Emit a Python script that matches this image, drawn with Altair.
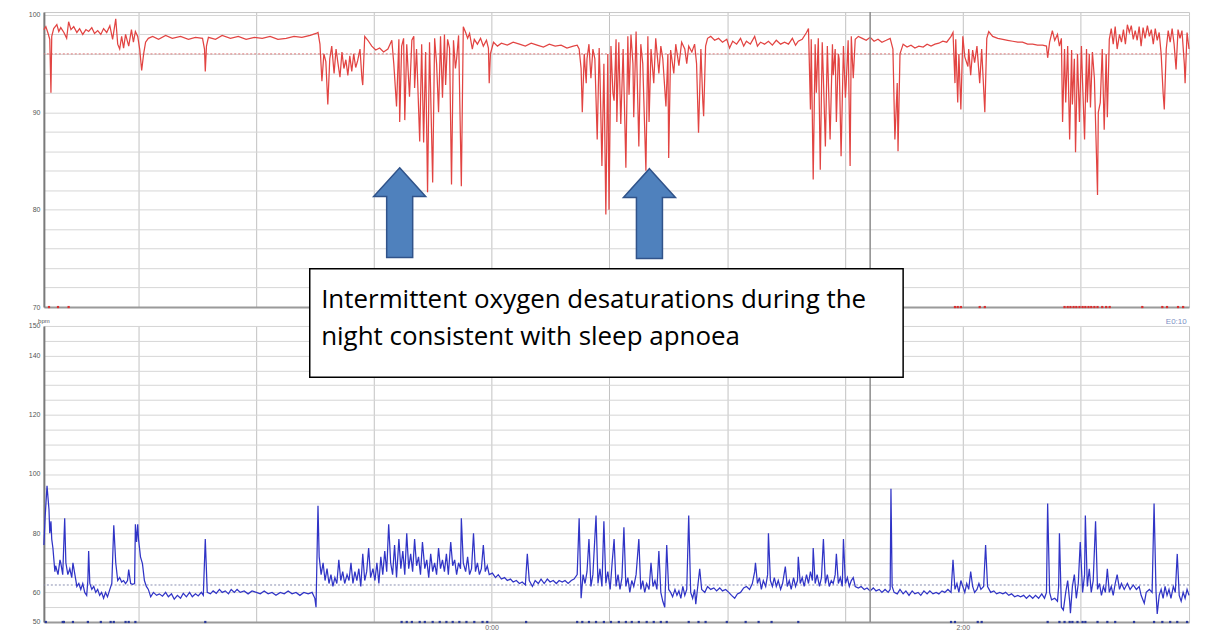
import altair as alt
import pandas as pd

# ---------------- data ----------------
# time in minutes from start of the recording
spo2_time = [0.0, 0.5, 1.0, 1.5, 1.8, 2.0, 2.5, 3.3, 3.8, 4.3, 5.1, 5.8, 6.3, 6.9, 7.6, 8.4, 9.1, 9.9, 10.7, 11.4,
             12.2, 12.9, 13.7, 14.5, 15.2, 16.0, 16.8, 17.5, 18.3, 18.8, 19.3, 19.8, 20.3, 20.8, 21.6, 22.3, 22.8, 23.3, 23.9, 24.4,
             24.9, 25.4, 25.9, 26.6, 27.7, 29.2, 31.0, 32.7, 34.8, 36.8, 38.6, 40.4, 40.9, 41.1, 41.4, 41.9, 43.7, 45.4, 47.5, 49.5,
             51.5, 53.6, 55.6, 57.6, 59.6, 61.7, 63.7, 65.7, 67.8, 69.3, 69.8, 70.3, 70.8, 71.3, 71.8, 72.3, 72.8, 73.3, 73.9, 74.4,
             74.9, 75.4, 75.9, 76.4, 76.9, 77.4, 77.9, 78.4, 78.9, 79.4, 79.9, 80.5, 81.0, 81.2, 81.7, 82.5, 83.5, 84.5, 85.5, 86.5,
             87.6, 88.6, 89.1, 89.8, 90.4, 90.6, 91.1, 91.6, 91.9, 92.4, 93.1, 93.7, 94.2, 94.4, 94.9, 95.7, 96.2, 96.7, 97.2, 97.7,
             98.2, 99.0, 99.5, 100.0, 100.5, 101.0, 101.5, 102.0, 102.3, 102.8, 103.3, 103.8, 104.3, 104.8, 105.1, 105.6, 106.3, 106.8, 107.4, 107.9,
             108.4, 109.1, 109.6, 110.4, 111.2, 111.9, 112.7, 113.2, 113.4, 113.7, 114.5, 115.5, 116.5, 118.0, 119.5, 121.1, 122.6, 124.1, 125.6, 127.2,
             128.7, 130.2, 131.7, 133.2, 134.8, 135.8, 136.3, 136.8, 137.1, 137.6, 138.1, 138.3, 138.8, 139.3, 139.8, 140.3, 140.9, 141.4, 141.6, 142.1,
             142.6, 143.1, 143.6, 143.9, 144.4, 144.9, 145.2, 145.7, 145.9, 146.4, 146.9, 147.5, 148.2, 148.7, 149.0, 149.5, 150.0, 150.2, 150.8, 151.5,
             152.0, 152.5, 153.3, 153.8, 154.1, 154.6, 155.3, 155.8, 156.6, 157.1, 157.6, 158.4, 158.9, 159.1, 159.6, 160.4, 160.9, 161.7, 162.4, 163.2,
             163.7, 164.2, 165.0, 165.7, 166.2, 166.7, 167.3, 167.8, 168.0, 168.5, 169.0, 169.8, 170.8, 171.8, 172.8, 173.9, 174.6, 175.4, 176.4, 177.4,
             178.2, 178.9, 179.9, 181.0, 181.7, 182.5, 183.5, 184.5, 185.5, 186.5, 187.6, 188.6, 189.6, 190.6, 191.4, 192.1, 193.1, 194.2, 194.7, 195.2,
             195.4, 195.9, 196.4, 196.7, 197.2, 197.7, 198.2, 198.5, 199.0, 199.5, 200.2, 200.8, 201.0, 201.5, 201.8, 202.3, 202.5, 203.0, 203.6, 204.1,
             204.3, 204.8, 205.3, 205.6, 206.1, 206.6, 207.4, 208.4, 209.4, 210.4, 211.4, 212.4, 213.4, 214.5, 215.5, 216.2, 216.7, 217.3, 217.5, 218.0,
             218.8, 219.8, 220.8, 221.8, 222.8, 223.9, 224.9, 225.9, 226.9, 227.9, 228.9, 229.9, 231.0, 231.5, 232.0, 232.2, 232.7, 233.0, 233.5, 234.0,
             234.5, 235.3, 235.5, 236.0, 236.5, 237.0, 237.6, 238.3, 238.8, 239.6, 240.1, 240.6, 241.6, 242.9, 244.2, 245.4, 246.7, 248.0, 249.2, 250.5,
             251.8, 253.0, 254.3, 255.3, 255.6, 256.1, 256.8, 257.4, 258.1, 258.6, 259.1, 259.4, 259.9, 260.2, 260.7, 261.2, 261.7, 261.9, 262.4, 262.7,
             263.2, 263.7, 264.2, 264.5, 265.0, 265.5, 265.7, 266.2, 266.5, 267.0, 267.5, 268.3, 268.5, 269.0, 269.5, 270.0, 270.5, 270.8, 271.3, 271.8,
             272.3, 272.8, 273.3, 273.9, 274.4, 274.9, 275.4, 275.9, 276.4, 276.9, 277.4, 277.9, 278.4, 278.9, 279.4, 279.9, 280.4, 281.0, 281.5, 282.0,
             282.5, 283.0, 283.5, 284.0, 284.5, 285.0, 285.3, 285.8, 286.3, 286.8, 287.3, 287.8, 288.3, 288.8, 289.3, 289.8, 290.4, 290.6, 291.1, 291.6]
spo2 = [98.5, 98.8, 98.2, 97.5, 92.0, 97.8, 98.6, 99.0, 98.3, 98.7, 98.2, 97.6, 99.3, 98.5, 98.8, 98.2, 98.6, 98.0, 98.5, 98.3,
        98.7, 98.1, 98.4, 98.0, 98.6, 98.2, 98.9, 97.5, 99.6, 97.0, 96.5, 97.8, 96.6, 98.0, 96.8, 98.5, 97.2, 98.3, 97.8, 96.5,
        94.3, 96.0, 97.2, 97.6, 97.8, 97.5, 97.9, 97.6, 97.8, 97.5, 97.7, 97.6, 96.5, 94.2, 96.8, 97.7, 97.5, 97.9, 97.6, 97.8,
        97.5, 97.7, 97.6, 97.8, 97.5, 97.6, 97.8, 97.7, 97.9, 98.1, 98.2, 97.0, 93.2, 96.0, 95.2, 90.8, 95.5, 96.8, 94.0, 96.5,
        95.0, 93.6, 96.2, 94.5, 95.4, 93.8, 95.8, 94.2, 96.0, 94.6, 95.3, 96.5, 93.4, 92.8, 97.8, 97.4, 96.8, 96.4, 96.6, 96.2,
        96.5, 97.4, 95.0, 90.6, 97.5, 89.0, 96.8, 97.6, 89.2, 97.0, 91.6, 97.4, 97.8, 92.5, 96.5, 87.0, 97.0, 86.9, 96.2, 81.8,
        97.2, 82.8, 97.6, 95.0, 90.0, 97.8, 91.5, 98.0, 92.8, 97.5, 96.6, 82.6, 97.4, 94.5, 95.5, 97.9, 82.4, 98.8, 98.2, 97.6,
        98.1, 96.5, 97.5, 97.0, 97.6, 96.8, 97.4, 96.6, 93.0, 96.0, 97.2, 96.8, 97.1, 96.9, 97.2, 97.0, 96.8, 97.1, 96.9, 96.7,
        97.0, 96.8, 96.9, 96.6, 96.8, 96.9, 96.5, 94.5, 90.0, 96.0, 93.0, 95.5, 97.0, 93.5, 96.5, 95.5, 87.2, 96.6, 94.0, 84.5,
        95.0, 79.5, 96.0, 80.0, 96.8, 92.0, 91.2, 97.5, 89.0, 97.2, 88.8, 96.5, 84.3, 97.8, 91.8, 98.0, 95.0, 89.5, 98.3, 86.5,
        97.0, 95.0, 84.0, 97.8, 89.0, 96.5, 93.0, 97.6, 94.0, 96.8, 95.5, 90.6, 96.0, 85.3, 96.4, 94.0, 97.0, 94.8, 97.2, 96.5,
        95.0, 96.8, 96.2, 97.0, 95.0, 87.9, 96.5, 91.0, 89.6, 96.8, 97.6, 97.8, 97.4, 97.6, 97.2, 97.5, 96.6, 97.3, 97.0, 97.6,
        96.8, 97.3, 97.0, 97.8, 96.8, 97.2, 97.0, 97.3, 96.9, 97.4, 97.0, 97.2, 97.0, 97.6, 96.9, 97.3, 97.5, 98.2, 98.6, 90.3,
        97.5, 83.1, 97.0, 92.0, 97.6, 84.1, 97.2, 93.5, 86.5, 96.8, 87.2, 97.0, 93.8, 96.5, 89.0, 96.0, 95.5, 85.5, 96.8, 91.5,
        93.0, 97.4, 84.5, 97.8, 93.5, 97.5, 97.8, 97.6, 97.4, 97.7, 97.3, 97.5, 97.2, 97.4, 97.6, 96.5, 87.2, 93.0, 86.0, 96.0,
        97.0, 96.7, 96.9, 96.6, 96.8, 96.7, 97.0, 96.8, 97.0, 97.1, 97.3, 97.2, 97.8, 98.2, 93.0, 97.5, 91.0, 96.0, 90.3, 97.8,
        95.7, 94.7, 96.5, 93.8, 96.4, 95.1, 96.8, 93.0, 96.5, 90.0, 97.6, 98.3, 97.8, 97.6, 97.5, 97.4, 97.3, 97.2, 97.2, 97.0,
        97.0, 96.9, 96.9, 96.8, 95.6, 97.2, 98.4, 97.4, 98.0, 96.8, 97.6, 89.0, 96.5, 91.0, 96.8, 87.2, 96.4, 90.8, 95.5, 85.9,
        96.0, 89.0, 96.8, 93.0, 87.2, 96.5, 91.0, 96.0, 90.5, 96.2, 93.5, 81.5, 90.0, 91.0, 96.5, 88.2, 96.0, 89.5, 97.5, 98.6,
        97.0, 98.8, 96.5, 98.0, 97.2, 98.5, 97.0, 99.0, 98.2, 98.9, 97.5, 98.4, 97.4, 98.8, 96.8, 98.7, 97.6, 98.9, 97.8, 98.5,
        97.0, 98.6, 97.4, 98.2, 96.0, 92.0, 90.3, 96.5, 98.4, 97.2, 98.6, 97.0, 94.4, 98.5, 97.6, 98.4, 95.0, 93.0, 98.2, 96.5]

hr_time = [0.0, 0.3, 0.8, 1.3, 1.5, 1.8, 2.0, 2.3, 2.8, 3.0, 3.6, 4.1, 4.3, 4.8, 5.3, 5.6, 6.1, 6.6, 7.1, 7.4,
           7.9, 8.4, 8.9, 9.4, 9.9, 10.4, 10.9, 11.2, 11.4, 11.7, 12.2, 12.7, 13.2, 13.7, 14.2, 14.7, 15.2, 15.7, 16.2, 16.8,
           17.3, 17.8, 18.3, 18.8, 19.3, 19.8, 20.3, 20.8, 21.3, 21.6, 22.1, 22.6, 23.1, 23.3, 23.6, 23.9, 24.1, 24.6, 25.1, 25.6,
           26.1, 26.6, 27.2, 27.9, 28.7, 29.4, 30.2, 31.0, 31.7, 32.5, 33.2, 34.0, 34.8, 35.5, 36.3, 37.1, 37.8, 38.6, 39.3, 40.1,
           40.6, 41.1, 41.6, 42.4, 43.1, 43.9, 44.7, 45.4, 46.2, 47.0, 47.7, 48.5, 49.2, 50.0, 51.0, 52.0, 53.0, 54.1, 55.1, 56.1,
           57.1, 58.1, 59.1, 60.2, 61.2, 62.2, 63.2, 64.2, 65.2, 66.2, 67.3, 68.3, 69.0, 69.3, 69.8, 70.1, 70.6, 71.1, 71.6, 72.1,
           72.6, 73.1, 73.6, 74.1, 74.6, 75.1, 75.6, 76.1, 76.6, 77.2, 77.7, 78.2, 78.7, 79.2, 79.7, 80.2, 80.7, 81.2, 81.7, 82.2,
           82.7, 83.2, 83.8, 84.3, 84.8, 85.3, 85.8, 86.3, 86.8, 87.3, 87.8, 88.3, 88.8, 89.3, 89.8, 90.4, 90.9, 91.4, 91.9, 92.4,
           92.9, 93.4, 93.9, 94.4, 94.9, 95.4, 95.9, 96.4, 97.0, 97.5, 98.0, 98.5, 99.0, 99.5, 100.0, 100.5, 101.0, 101.5, 102.0, 102.5,
           103.0, 103.6, 104.1, 104.6, 105.1, 105.6, 106.1, 106.3, 106.8, 107.4, 107.9, 108.4, 108.9, 109.4, 109.9, 110.4, 110.9, 111.4, 111.9, 112.4,
           112.9, 113.4, 114.2, 115.0, 115.7, 116.5, 117.3, 118.0, 118.8, 119.5, 120.3, 121.1, 121.8, 122.6, 123.1, 123.6, 124.4, 125.1, 125.9, 126.6,
           127.4, 128.2, 128.9, 129.7, 130.5, 131.2, 132.0, 132.7, 133.5, 134.3, 135.0, 135.8, 136.3, 136.8, 137.3, 137.8, 138.3, 138.8, 139.3, 139.8,
           140.6, 141.1, 141.6, 142.1, 142.6, 143.1, 143.6, 144.2, 144.7, 145.2, 145.7, 146.2, 146.7, 147.2, 147.7, 148.2, 148.7, 149.2, 149.7, 150.2,
           150.8, 151.5, 152.0, 152.5, 153.0, 153.5, 154.1, 154.6, 155.1, 155.6, 156.1, 156.6, 157.1, 157.6, 158.1, 158.6, 159.1, 159.6, 160.1, 160.7,
           161.2, 161.7, 162.2, 162.7, 163.2, 163.7, 164.2, 164.7, 165.2, 165.7, 166.0, 166.5, 167.0, 167.5, 168.3, 169.0, 169.8, 170.6, 171.3, 172.1,
           172.8, 173.6, 174.4, 175.1, 175.9, 176.6, 177.4, 178.2, 178.9, 179.7, 180.4, 181.0, 181.2, 181.7, 182.2, 182.7, 183.2, 183.8, 184.3, 184.5,
           185.0, 185.5, 186.0, 186.5, 187.0, 187.6, 188.1, 188.8, 189.3, 189.8, 190.3, 190.9, 191.4, 191.9, 192.1, 192.6, 193.1, 193.6, 194.2, 194.7,
           195.2, 195.7, 195.9, 196.4, 196.9, 197.5, 198.0, 198.5, 199.0, 199.5, 200.0, 200.5, 201.0, 201.5, 201.8, 202.3, 202.8, 203.3, 203.6, 204.1,
           204.6, 205.1, 205.6, 206.1, 206.6, 207.4, 208.1, 208.9, 209.6, 210.4, 211.2, 211.9, 212.7, 213.4, 214.2, 215.0, 215.5, 215.7, 216.0, 216.5,
           217.3, 218.0, 218.8, 219.5, 220.3, 221.1, 221.8, 222.6, 223.3, 224.1, 224.9, 225.6, 226.4, 227.2, 227.9, 228.7, 229.4, 230.2, 231.0, 231.5,
           232.0, 232.5, 233.0, 233.5, 234.0, 234.5, 235.0, 235.5, 236.0, 236.5, 237.0, 237.6, 238.1, 238.6, 239.3, 239.8, 240.3, 241.1, 241.9, 242.6,
           243.4, 244.2, 244.9, 245.7, 246.4, 247.2, 248.0, 248.7, 249.5, 250.2, 251.0, 251.8, 252.5, 253.3, 254.1, 254.8, 255.3, 255.6, 256.1, 256.6,
           257.4, 258.1, 258.4, 258.6, 259.1, 259.6, 260.2, 260.7, 261.2, 261.4, 261.9, 262.4, 262.9, 263.4, 263.9, 264.5, 265.0, 265.2, 265.7, 266.2,
           266.7, 267.2, 267.8, 268.3, 268.8, 269.3, 269.8, 270.3, 270.8, 271.3, 271.8, 272.3, 272.8, 273.3, 273.9, 274.4, 275.1, 275.9, 276.6, 277.4,
           278.2, 278.9, 279.4, 280.2, 280.7, 281.5, 282.2, 282.7, 283.2, 283.5, 284.0, 284.5, 285.0, 285.5, 286.0, 286.5, 287.0, 287.6, 288.1, 288.6,
           289.1, 289.6, 290.1, 290.6, 291.1, 291.6]
hr = [76, 85, 96, 88, 80, 84, 78, 75, 67, 69, 66, 71, 70, 66, 85, 70, 66, 68, 65, 70,
      66, 62, 63, 61, 63, 60, 59, 64, 74, 63, 61, 62, 60, 61, 59, 60, 58, 60, 58.5, 61,
      63, 82.7, 70, 64, 65, 63.5, 64, 63, 64, 67.7, 63, 62.7, 63, 83, 77, 83, 78, 72, 69.7, 64,
      62, 61, 58.5, 60, 59, 59.5, 58.7, 60, 58.5, 59.5, 57.7, 59, 58, 59.7, 58.5, 60, 58.5, 59.5, 58.8, 60,
      59, 78, 60, 59.5, 60.5, 59.7, 61, 60, 60.5, 59.5, 61, 60, 61, 60, 60.5, 59.5, 60.5, 60, 59.5, 60.5,
      59.5, 60, 59, 60, 59.5, 60.5, 59.5, 60, 59, 60, 59.5, 60, 58, 55, 89.3, 72, 66, 70, 64, 68,
      63, 66, 62, 65, 63, 71, 64, 67, 63, 66, 64, 70, 63, 67, 64, 68, 62, 73, 64, 67,
      75, 65, 68, 64, 70, 63, 72, 66, 74, 67, 83, 70, 66, 76, 65, 78, 68, 74, 66, 80,
      68, 73, 67, 78, 69, 72, 66, 77, 68, 71, 65, 73, 67, 70, 66, 75, 68, 71, 67, 73,
      66, 77, 69, 71, 66, 70, 68, 85, 70, 67, 72, 66, 68, 80, 67, 70, 66, 68, 76, 67,
      69, 66, 66.5, 65, 66, 64.5, 65, 64, 64.5, 63.5, 64, 63, 63.5, 62.5, 73, 64, 62, 64, 63, 64.5,
      63, 64.5, 63.5, 64, 63, 64, 63.5, 64, 63, 64, 64.5, 66, 85, 58, 66, 63, 67, 78, 62, 66,
      86, 63, 68, 62, 84, 63, 67, 61, 70, 78, 62, 66, 61, 65, 82, 62, 65, 60, 64, 62,
      66, 78, 61, 64, 60, 63, 61, 70, 62, 64, 61, 74, 60, 57, 55, 76, 61, 60, 58.5, 61,
      59, 60.5, 58, 62, 59, 61, 86, 60, 58, 61, 56, 62, 68, 61, 60, 62, 61, 61.5, 60.5, 61.5,
      60.5, 61, 60, 59, 58, 59.5, 60, 61.5, 62, 61, 63, 67, 70, 63, 65, 61, 64, 62, 66, 80,
      64, 62, 65, 62, 64, 61, 63, 68.7, 62, 64, 61, 65, 62, 64, 72, 63, 65, 62, 66, 63,
      67, 64, 75, 63, 66, 62, 65, 78, 63, 66, 62, 64, 63, 66, 73, 63, 65, 62, 78, 63,
      65, 62, 64, 65, 62, 61.5, 62, 61, 61.5, 60.5, 61.5, 60.5, 61, 60, 61, 60, 61, 95, 62, 60,
      59.5, 61, 59.5, 60.5, 59, 60.5, 59.5, 60, 59, 60.5, 59.5, 60.5, 59.5, 60, 59.5, 60.5, 60, 61, 60, 71,
      61, 63, 60, 64, 62, 60, 63, 61, 67, 62, 60, 61, 63, 61, 62, 76, 62, 60, 60.5, 59.5,
      60, 59.5, 60, 59, 59.5, 58.5, 59, 58.5, 59, 58, 59, 58, 59, 58, 59.5, 58, 60, 90, 60, 57.5,
      58, 57, 62, 80, 55, 54, 60, 64, 57, 53, 62, 66, 58, 63, 77, 60, 66, 86, 62, 68,
      60, 64, 84, 61, 63, 59, 62, 60, 68, 60, 62, 59, 63, 66, 61, 63, 61, 63, 61, 62.5,
      61, 62, 59, 56.3, 60, 61, 60, 90, 60, 52.7, 59, 61, 58, 62, 59, 61, 58, 62, 60, 73,
      59, 57, 60, 58, 61, 59]

# event markers along the bottom of each panel (minutes)
spo2_events = [1.3, 3.6, 6.3, 232.0, 232.7, 233.5, 238.3, 239.6, 259.9, 260.7, 261.4, 262.2, 262.9, 263.7, 264.5,
               265.2, 266.0, 266.7, 267.5, 268.3, 269.5, 270.5, 271.4, 279.7, 284.8, 286.0, 288.8, 290.1]
hr_events = [0.5, 4.8, 5.1, 7.4, 11.2, 14.5, 17.0, 17.8, 20.8, 21.6, 23.3, 41.1, 91.1, 92.4, 93.7, 95.7, 97.0, 99.0,
             100.8, 102.5, 104.1, 105.8, 107.6, 109.6, 111.7, 112.9, 122.8, 135.8, 137.1, 138.8, 140.6, 142.6, 144.4,
             146.4, 148.2, 149.7, 151.5, 153.5, 155.3, 157.1, 158.6, 164.2, 166.7, 168.5, 173.9, 178.7, 182.0, 185.3,
             192.1, 231.0, 232.0, 237.8, 238.8, 255.6, 258.6, 259.9, 261.2, 261.9, 263.2, 264.5, 265.2, 268.3, 270.8,
             272.8, 277.6, 282.7, 284.8, 286.8, 288.6, 291.1]

time_grid = [24, 54, 84, 114, 144, 174, 204, 234, 264]
time_labels = {114: "0:00", 234: "2:00"}
spo2_grid = list(range(70, 101, 2))
spo2_label_values = [70, 80, 90, 100]
hr_grid = list(range(50, 151, 5))
hr_label_values = [50, 60, 80, 100, 120, 140, 150]
spo2_baseline = [96]
hr_baseline = [62.5]
marker_time = [210.4]

note_lines = ["Intermittent oxygen desaturations during the", "night consistent with sleep apnoea"]
note_line_time = [70.6, 70.6]
note_line_value = [158.9, 146.2]
note_box = {"t1": [67.7], "t2": [218.8], "v1": [169.3], "v2": [132.7]}
arrow_time = [90.6, 154.2]
arrow_value = [79.7, 79.6]

# ---------------- chart ----------------
W = 1149
H_TOP = 296
H_BOT = 297
GAP = 19

xscale = alt.Scale(domain=[0, 291.6], nice=False, zero=False)
label_expr = " : ".join(f"datum.value == {k} ? '{v}'" for k, v in time_labels.items()) + " : ''"

ax_top = alt.Axis(values=time_grid, grid=True, gridColor="#c2c2c2", labels=False, ticks=False,
                  domain=True, domainColor="#9a9a9a", domainWidth=2, title=None)
ax_bot = alt.Axis(values=time_grid, grid=True, gridColor="#c2c2c2", labelExpr=label_expr,
                  labelFontSize=7, labelColor="#666", labelFont="Liberation Sans", ticks=False, labelPadding=2,
                  domain=True, domainColor="#9a9a9a", domainWidth=2, title=None)

def XT(field="t"):
    return alt.X(f"{field}:Q", scale=xscale, axis=ax_top)

def XB(field="t"):
    return alt.X(f"{field}:Q", scale=xscale, axis=ax_bot)

yscale_top = alt.Scale(domain=[70, 100.3], nice=False, zero=False)
yscale_bot = alt.Scale(domain=[50, 150], nice=False, zero=False)

def lab_expr(vals):
    return "indexof([" + ",".join(str(v) for v in vals) + "], datum.value) >= 0 ? datum.label : ''"

ay_top = alt.Axis(values=spo2_grid, labelExpr=lab_expr(spo2_label_values), grid=True, gridColor="#d6d6d6",
                  ticks=False, labelFontSize=7, labelColor="#555", labelFont="Liberation Sans", labelPadding=4,
                  domain=True, domainColor="#7a7a7a", domainWidth=2, title=None)
ay_bot = alt.Axis(values=hr_grid, labelExpr=lab_expr(hr_label_values), grid=True, gridColor="#d6d6d6",
                  ticks=False, labelFontSize=7, labelColor="#555", labelFont="Liberation Sans", labelPadding=4,
                  domain=True, domainColor="#7a7a7a", domainWidth=2, title=None)

def YT(field="v"):
    return alt.Y(f"{field}:Q", scale=yscale_top, axis=ay_top)

def YB(field="v"):
    return alt.Y(f"{field}:Q", scale=yscale_bot, axis=ay_bot)

spo2_df = pd.DataFrame({"t": spo2_time, "v": spo2})
hr_df = pd.DataFrame({"t": hr_time, "v": hr})

# --- top panel: SpO2 ---
top_ref = alt.Chart(pd.DataFrame({"v": spo2_baseline})).mark_rule(
    color="#e07878", strokeDash=[2, 2], strokeWidth=1).encode(y=YT())
top_line = alt.Chart(spo2_df).mark_line(color="#e24442", strokeWidth=1.25).encode(x=XT(), y=YT())
top_marker = alt.Chart(pd.DataFrame({"t": marker_time})).mark_rule(
    color="#8c8c8c", strokeWidth=1.5).encode(x=XT(), y=alt.value(0), y2=alt.value(H_TOP + GAP))
top_events = alt.Chart(pd.DataFrame({"t": spo2_events, "v": [70] * len(spo2_events)})).mark_point(
    shape="square", filled=True, size=5, color="#d93030", opacity=1).encode(x=XT(), y=YT())
arrow_path = "M0,-1L0.58,-0.36L0.29,-0.36L0.29,1L-0.29,1L-0.29,-0.36L-0.58,-0.36Z"
top_arrows = alt.Chart(pd.DataFrame({"t": arrow_time, "v": arrow_value})).mark_point(
    shape=arrow_path, filled=True, size=8100, fill="#4f81bd", stroke="#30538a", strokeWidth=1.5,
    opacity=1, fillOpacity=1).encode(x=XT(), y=YT())

top = alt.layer(top_ref, top_line, top_marker, top_events, top_arrows).properties(width=W, height=H_TOP)

# --- bottom panel: pulse rate ---
bot_ref = alt.Chart(pd.DataFrame({"v": hr_baseline})).mark_rule(
    color="#8a8fb0", strokeDash=[2, 2], strokeWidth=1).encode(y=YB())
bot_line = alt.Chart(hr_df).mark_line(color="#3034c6", strokeWidth=1.25).encode(x=XB(), y=YB())
bot_marker = alt.Chart(pd.DataFrame({"t": marker_time})).mark_rule(
    color="#8c8c8c", strokeWidth=1.5).encode(x=XB(), y=alt.value(0), y2=alt.value(H_BOT))
bot_events = alt.Chart(pd.DataFrame({"t": hr_events, "v": [50] * len(hr_events)})).mark_point(
    shape="square", filled=True, size=5, color="#2a3a9a", opacity=1).encode(x=XB(), y=YB())
bpm = alt.Chart(pd.DataFrame({"t": [0], "v": [151.8], "s": ["bpm"]})).mark_text(
    fontSize=6, color="#555", font="Liberation Sans", align="center", baseline="middle").encode(
    x=XB(), y=YB(), text="s:N")
e010 = alt.Chart(pd.DataFrame({"t": [291.0], "v": [151.2], "s": ["E0:10"]})).mark_text(
    fontSize=8, color="#7d8fc4", font="Liberation Sans", align="right", baseline="middle").encode(
    x=XB(), y=YB(), text="s:N")
box = alt.Chart(pd.DataFrame(note_box)).mark_rect(
    fill="white", stroke="black", strokeWidth=1.5).encode(x=XB("t1"), x2="t2:Q", y=YB("v1"), y2="v2:Q")
note = alt.Chart(pd.DataFrame({"t": note_line_time, "v": note_line_value, "s": note_lines})).mark_text(
    fontSize=26, color="black", font="Open Sans", align="left", baseline="middle").encode(
    x=XB(), y=YB(), text="s:N")

bottom = alt.layer(bot_ref, bot_line, bot_marker, bot_events, bpm, e010, box, note).properties(
    width=W, height=H_BOT)

chart = alt.vconcat(top, bottom, spacing=GAP, bounds="flush").properties(
    padding={"left": 19, "top": 1, "right": 5, "bottom": 0},
    background="white",
).configure_view(stroke="#c8c8c8", strokeWidth=1)

chart.save("out.html", embed_options={"renderer": "svg", "actions": False})
